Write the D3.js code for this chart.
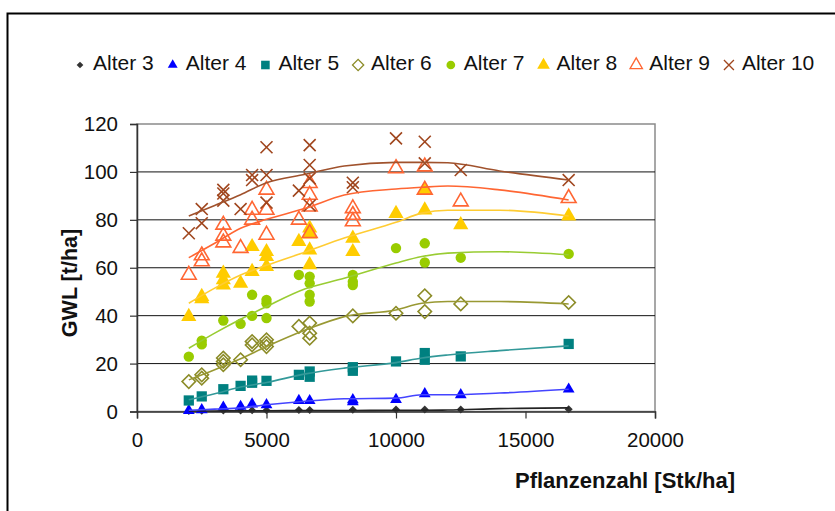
<!DOCTYPE html>
<html>
<head>
<meta charset="utf-8">
<script src="https://cdn.jsdelivr.net/npm/d3@7"></script>
<style>
  body { margin: 0; background: #fff; }
  text { font-family: Arial, "Liberation Sans", sans-serif; }
</style>
</head>
<body>
<svg id="chart" width="835" height="511"></svg>
<script>
// [Pflanzenzahl, GWL]
var alter3 = [[2000,0.2],[2500,0.3],[3333,0.4],[4000,0.4],[4444,0.5],[5000,0.5],[6250,0.6],[6667,0.6],
  [8333,0.7],[10000,0.8],[11111,0.8],[12500,0.8],[16667,0.9]];
var alter4 = [[2000,0.4],[2500,0.7],[3333,1.8],[4000,2.1],[4444,3.1],[5000,2.8],[6250,4.6],[6667,4.5],
  [8333,4.9],[8333,4.0],[10000,5],[11111,7.4],[12500,7],[16667,9.3]];
var alter5 = [[2000,4.6],[2500,6.3],[3333,9.3],[4000,10.7],[4444,12.9],[4444,12],[5000,12.8],[6250,15.3],
  [6667,16.7],[6667,14.5],[8333,18.5],[8333,17],[10000,20.9],[11111,24.4],[11111,21.6],[12500,23],[16667,28.2]];
var alter6 = [[2000,12.5],[2500,13.9],[2500,15.3],[3333,22.3],[3333,20.9],[3333,19.5],[4000,21.6],[4444,29.2],
  [4444,27.8],[5000,29.9],[5000,28.5],[5000,27.1],[6250,35.5],[6667,36.9],[6667,32.7],[6667,30.6],[8333,39.9],
  [10000,41],[11111,48.3],[11111,41.7],[12500,44.9],[16667,45.5]];
var alter7 = [[2000,22.9],[2500,29.6],[2500,28],[3333,38],[4000,36.6],[4444,48.7],[4444,39.9],[5000,46.6],
  [5000,45.2],[5000,39],[6250,57],[6667,56.3],[6667,53.5],[6667,48.7],[6667,45.9],[8333,57],[8333,54.2],
  [8333,52.8],[10000,68.2],[11111,70.2],[11111,62.2],[12500,64.2],[16667,65.8]];
var alter8 = [[2000,39.6],[2500,48],[2500,47],[3333,57.7],[3333,54.9],[3333,52.8],[4000,53.5],[4444,68.8],
  [4444,58.4],[5000,66.7],[5000,64.6],[5000,60.5],[6250,70.9],[6667,76.5],[6667,74],[6667,67.4],[6667,61.2],
  [8333,72.3],[8333,66.7],[10000,82.6],[11111,84.1],[11111,92.5],[12500,77.9],[16667,81.6]];
var alter9 = [[2000,57],[2500,65.1],[2500,62.6],[3333,77.9],[3333,73.3],[3333,70.5],[4000,68.2],[4444,84.1],
  [4444,80],[5000,92.5],[5000,84.1],[5000,73.7],[6250,80],[6667,95.3],[6667,90.4],[6667,85.5],[6667,74.4],
  [8333,84.8],[8333,82],[8333,79.3],[10000,101.5],[11111,102.2],[11111,92.5],[12500,87.6],[16667,89]];
var alter10 = [[2000,74.4],[2500,84.5],[2500,78.6],[3333,92.5],[3333,91],[3333,88],[4000,84.5],[4444,98.7],
  [4444,96.6],[5000,110.3],[5000,98.7],[5000,87.2],[6250,92.2],[6667,111.2],[6667,102.9],[6667,97.3],[6667,86],
  [8333,95.5],[8333,93.6],[10000,114],[11111,112.6],[11111,103.6],[12500,100.8],[16667,96.6]];

// trend lines, read at these x values
var trendX  = [2000, 3000, 4000, 5000, 6500, 8000, 10000, 11000, 12000, 14000, 16667];
var trend3  = [0.2, 0.2, 0.3, 0.3, 0.4, 0.4, 0.5, 0.5, 0.6, 1.2, 1.5];
var trend4  = [0.5, 1, 1.5, 2.8, 4.3, 5.3, 5.6, 7, 7, 7.7, 9.3];
var trend5  = [4.9, 7.4, 10.2, 12.1, 15.7, 18.1, 20.4, 22.3, 23.6, 25.4, 27.4];
var trend6  = [13.2, 17.4, 22, 27.1, 34, 39.6, 42.4, 45.2, 45.9, 45.9, 44.9];
var trend7  = [26.4, 32.7, 38.5, 43.8, 51.2, 55.6, 62, 64.7, 66.1, 66.7, 65.4];
var trend8  = [45.2, 51.5, 57, 61, 66.6, 72.4, 79, 82.8, 84, 84, 81.6];
var trend9  = [64.2, 70.2, 76.5, 80.2, 84.8, 90.4, 92.9, 93.6, 94.1, 92.5, 88.3];
var trend10 = [81.6, 86, 90.5, 95.5, 99, 102.5, 104, 104, 103.8, 100.4, 96.6];

var seriesNames = ['Alter 3', 'Alter 4', 'Alter 5', 'Alter 6', 'Alter 7', 'Alter 8', 'Alter 9', 'Alter 10'];
var xTicks = [0, 5000, 10000, 15000, 20000];
var yTicks = [0, 20, 40, 60, 80, 100, 120];

var series = [
  {name: seriesNames[0], pts: alter3,  trend: trend3,  type: d3.symbolSquare,   size: 32,  rot: 45, fill: '#333333', stroke: 'none', line: '#222222'},
  {name: seriesNames[1], pts: alter4,  trend: trend4,  type: d3.symbolTriangle, size: 60,  rot: 0,  fill: '#0000ff', stroke: 'none', line: '#4444ff'},
  {name: seriesNames[2], pts: alter5,  trend: trend5,  type: d3.symbolSquare,   size: 105, rot: 0,  fill: '#008080', stroke: 'none', line: '#339999'},
  {name: seriesNames[3], pts: alter6,  trend: trend6,  type: d3.symbolSquare,   size: 90,  rot: 45, fill: 'none', stroke: '#8c8c28', line: '#999933'},
  {name: seriesNames[4], pts: alter7,  trend: trend7,  type: d3.symbolCircle,   size: 85,  rot: 0,  fill: '#99cc00', stroke: 'none', line: '#99cc33'},
  {name: seriesNames[5], pts: alter8,  trend: trend8,  type: d3.symbolTriangle, size: 100, rot: 0,  fill: '#ffcc00', stroke: 'none', line: '#ffcc33'},
  {name: seriesNames[6], pts: alter9,  trend: trend9,  type: d3.symbolTriangle, size: 95,  rot: 0,  fill: 'none', stroke: '#ff6633', line: '#ff6633'},
  {name: seriesNames[7], pts: alter10, trend: trend10, type: d3.symbolX,        size: 95,  rot: 0,  fill: 'none', stroke: '#a0461e', line: '#a0522d'}
];

var svg = d3.select('#chart');
var x = d3.scaleLinear().domain([0, 20000]).range([137, 655]);
var y = d3.scaleLinear().domain([0, 120]).range([411.5, 124]);

// outer frame
svg.append('path').attr('d', 'M7.5,520 V13.5 H840')
  .attr('fill', 'none').attr('stroke', '#000').attr('stroke-width', 2);

// plot area
svg.append('rect').attr('x', x(0)).attr('y', y(120))
  .attr('width', x(20000) - x(0)).attr('height', y(0) - y(120))
  .attr('fill', '#fff').attr('stroke', '#8a8a8a').attr('stroke-width', 1.5);

svg.append('g').selectAll('line').data(yTicks.filter(t => t > 0 && t < 120)).join('line')
  .attr('x1', x(0)).attr('x2', x(20000))
  .attr('y1', d => y(d)).attr('y2', d => y(d))
  .attr('stroke', '#111').attr('stroke-width', 1);

var yAxis = svg.append('g').attr('transform', 'translate(' + x(0) + ',0)')
  .call(d3.axisLeft(y).tickValues(yTicks).tickSize(7).tickPadding(12));
var xAxis = svg.append('g').attr('transform', 'translate(0,' + y(0) + ')')
  .call(d3.axisBottom(x).tickValues(xTicks).tickSize(7).tickPadding(14).tickFormat(d3.format('d')));
[yAxis, xAxis].forEach(function(a) {
  a.select('.domain').attr('stroke', '#333').attr('stroke-width', 1.5);
  a.selectAll('.tick line').attr('stroke', '#333').attr('stroke-width', 1.2);
  a.selectAll('.tick text').attr('font-size', 20.5).attr('fill', '#111')
    .attr('font-family', 'Arial, "Liberation Sans", sans-serif');
});

// markers
function symbolPath(s, scale) {
  return d3.symbol().type(s.type).size(s.size * (scale || 1))();
}
series.forEach(function(s) {
  svg.append('g').selectAll('path').data(s.pts).join('path')
    .attr('d', symbolPath(s))
    .attr('transform', d => 'translate(' + x(d[0]) + ',' + y(d[1]) + ') rotate(' + s.rot + ')')
    .attr('fill', s.fill).attr('stroke', s.stroke).attr('stroke-width', 1.6);
});

// trend lines
var line = d3.line().x(d => x(d[0])).y(d => y(d[1])).curve(d3.curveMonotoneX);
series.forEach(function(s) {
  svg.append('path').datum(trendX.map((t, i) => [t, s.trend[i]]))
    .attr('d', line).attr('fill', 'none')
    .attr('stroke', s.line).attr('stroke-width', 1.6);
});

// legend
var lx = 80;
series.forEach(function(s) {
  var g = svg.append('g').attr('transform', 'translate(' + lx + ',0)');
  g.append('path').attr('d', symbolPath(s, 0.7))
    .attr('transform', 'translate(0,65) rotate(' + s.rot + ')')
    .attr('fill', s.fill).attr('stroke', s.stroke).attr('stroke-width', 1.3);
  var t = g.append('text').attr('x', 13).attr('y', 70).attr('font-size', 21).attr('fill', '#111').text(s.name);
  lx += 13 + t.node().getComputedTextLength() + 19;
});

// axis titles
svg.append('text').attr('transform', 'translate(77,283) rotate(-90)')
  .attr('text-anchor', 'middle').attr('font-size', 21.5).attr('font-weight', 'bold').attr('fill', '#111')
  .text('GWL [t/ha]');
svg.append('text').attr('x', 625).attr('y', 488)
  .attr('text-anchor', 'middle').attr('font-size', 22).attr('font-weight', 'bold').attr('fill', '#111')
  .text('Pflanzenzahl [Stk/ha]');
</script>
</body>
</html>
